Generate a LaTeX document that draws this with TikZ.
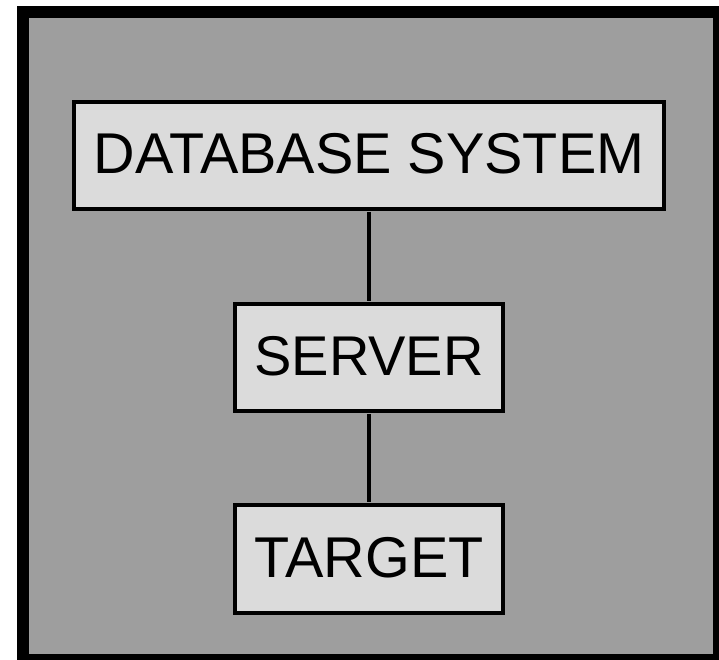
\documentclass[tikz,border=0pt]{standalone}
\usepackage{fontspec}
\setmainfont{Liberation Sans}
\definecolor{boxgray}{gray}{0.86}
\definecolor{bggray}{gray}{0.62}
\tikzset{box/.style={draw=black,line width=4pt,fill=boxgray,inner sep=0pt,anchor=center,text height=36pt,text depth=0pt,font=\fontsize{57.5}{58}\selectfont,text=black},
link/.style={draw=black,line width=3.7pt,shorten >=1.2pt,shorten <=1.2pt}}
\begin{document}
\begin{tikzpicture}[x=1pt,y=-1pt]
\useasboundingbox (0,0) rectangle (719,660);
\fill[white] (0,0) rectangle (719,660);
\draw[fill=bggray,draw=black,line width=12pt] (22.5,12) rectangle (719,660);
\node[box,minimum width=590,minimum height=107] (db) at (369,155.2) {DATABASE SYSTEM};
\node[box,minimum width=268.3,minimum height=107.3] (srv) at (369,357.6) {\fontsize{56}{56}\selectfont SERVER};
\node[box,minimum width=268.3,minimum height=107.5] (tgt) at (369,559.2) {TARGET};
\draw[link] (db) -- (srv);
\draw[link] (srv) -- (tgt);
\end{tikzpicture}
\end{document}
